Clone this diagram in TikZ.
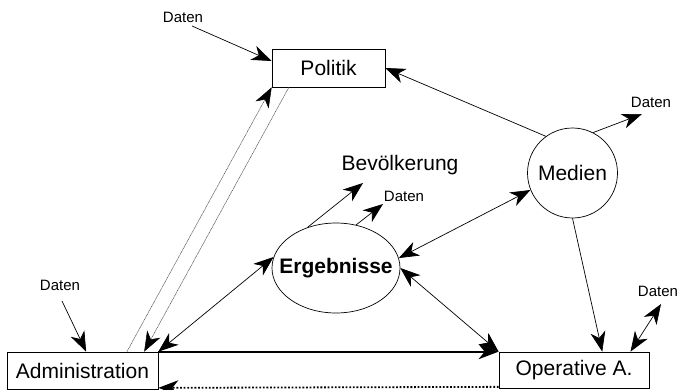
\documentclass[tikz,border=0pt]{standalone}
\usepackage{fontspec}
\setmainfont{Liberation Sans}
\usetikzlibrary{arrows.meta,calc,shapes.geometric}
\begin{document}
\begin{tikzpicture}[x=1pt,y=-1pt,
  big/.style={font=\fontsize{21}{25}\selectfont},
  small/.style={font=\fontsize{15}{18}\selectfont, inner sep=1pt},
  box/.style={draw, line width=0.7pt, big, inner sep=0pt},
  tip/.style={-{Stealth[length=20pt,width=15pt,inset=6pt,color=black]}},
  dtip/.style={{Stealth[length=20pt,width=15pt,inset=6pt]}-{Stealth[length=20pt,width=15pt,inset=6pt]}},
  conn/.style={line width=0.7pt},
  gline/.style={line width=0.5pt, gray!60!black, dash pattern=on 1pt off 0.5pt},
]
\useasboundingbox (0,0) rectangle (687,390);
% nodes
\node[box, minimum width=113pt, minimum height=38pt] (pol) at (328.5,68) {Politik};
\node[box, minimum width=151pt, minimum height=37pt] (adm) at (82.5,370.5) {Administration};
\node[box, minimum width=150pt, minimum height=36pt] (op) at (574,370) {Operative A.};
\node[draw, circle, line width=0.7pt, minimum size=90pt, inner sep=0pt, big] (med) at (572.5,173) {Medien};
\node[draw, ellipse, line width=0.7pt, minimum width=128pt, minimum height=90pt, inner sep=0pt] (erg) at (336,268) {};
\node[inner sep=0pt, font=\fontsize{21}{25}\selectfont\bfseries] (ergt) at (erg) {Ergebnisse};
\node[big, inner sep=0pt] (bev) at (400,165) {Bevölkerung};
\node[small] (d1) at (183,17) {Daten};
\node[small] (d2) at (60,285) {Daten};
\node[small] (d3) at (404,196) {Daten};
\node[small] (d4) at (651,102) {Daten};
\node[small] (d5) at (658,291) {Daten};
% free ends
\coordinate (d1s) at (192,26);
\coordinate (d2s) at (62,301);
\coordinate (d3e) at (383,204);
\coordinate (bevE) at (363,183);
\coordinate (d4e) at (642,114);
\coordinate (d5e) at (661,304);
% connectors
\draw[conn, tip] (d1s) -- (pol.173);
\draw[conn, tip] (d2s) -- (adm.79);
\draw[conn, tip] (med.126) -- (pol.east);
\draw[conn, tip] (med.63) -- (d4e);
\draw[conn, tip] (med.south) -- (op.33.7);
\draw[conn, dtip] (erg.9) -- (med.202);
\draw[conn, dtip] (erg.0) -- (op.north west);
\draw[conn, dtip] (adm.north east) -- (erg.170);
\draw[conn, tip] (erg.125) -- (bevE);
\draw[conn, tip] (erg.65) -- (d3e);
\draw[conn, dtip] (op.18.4) -- (d5e);
\draw[line width=2pt, tip] (adm.north east) -- (op.north west);
\draw[line width=1.8pt, dash pattern=on 1.8pt off 1.8pt, tip] ([yshift=1.5pt]op.south west) -- ([yshift=1.5pt]adm.south east);
\draw[gline, tip] (adm.23.5) -- (pol.south west);
\draw[gline, tip] (pol.206.3) -- (adm.17);
\end{tikzpicture}
\end{document}
